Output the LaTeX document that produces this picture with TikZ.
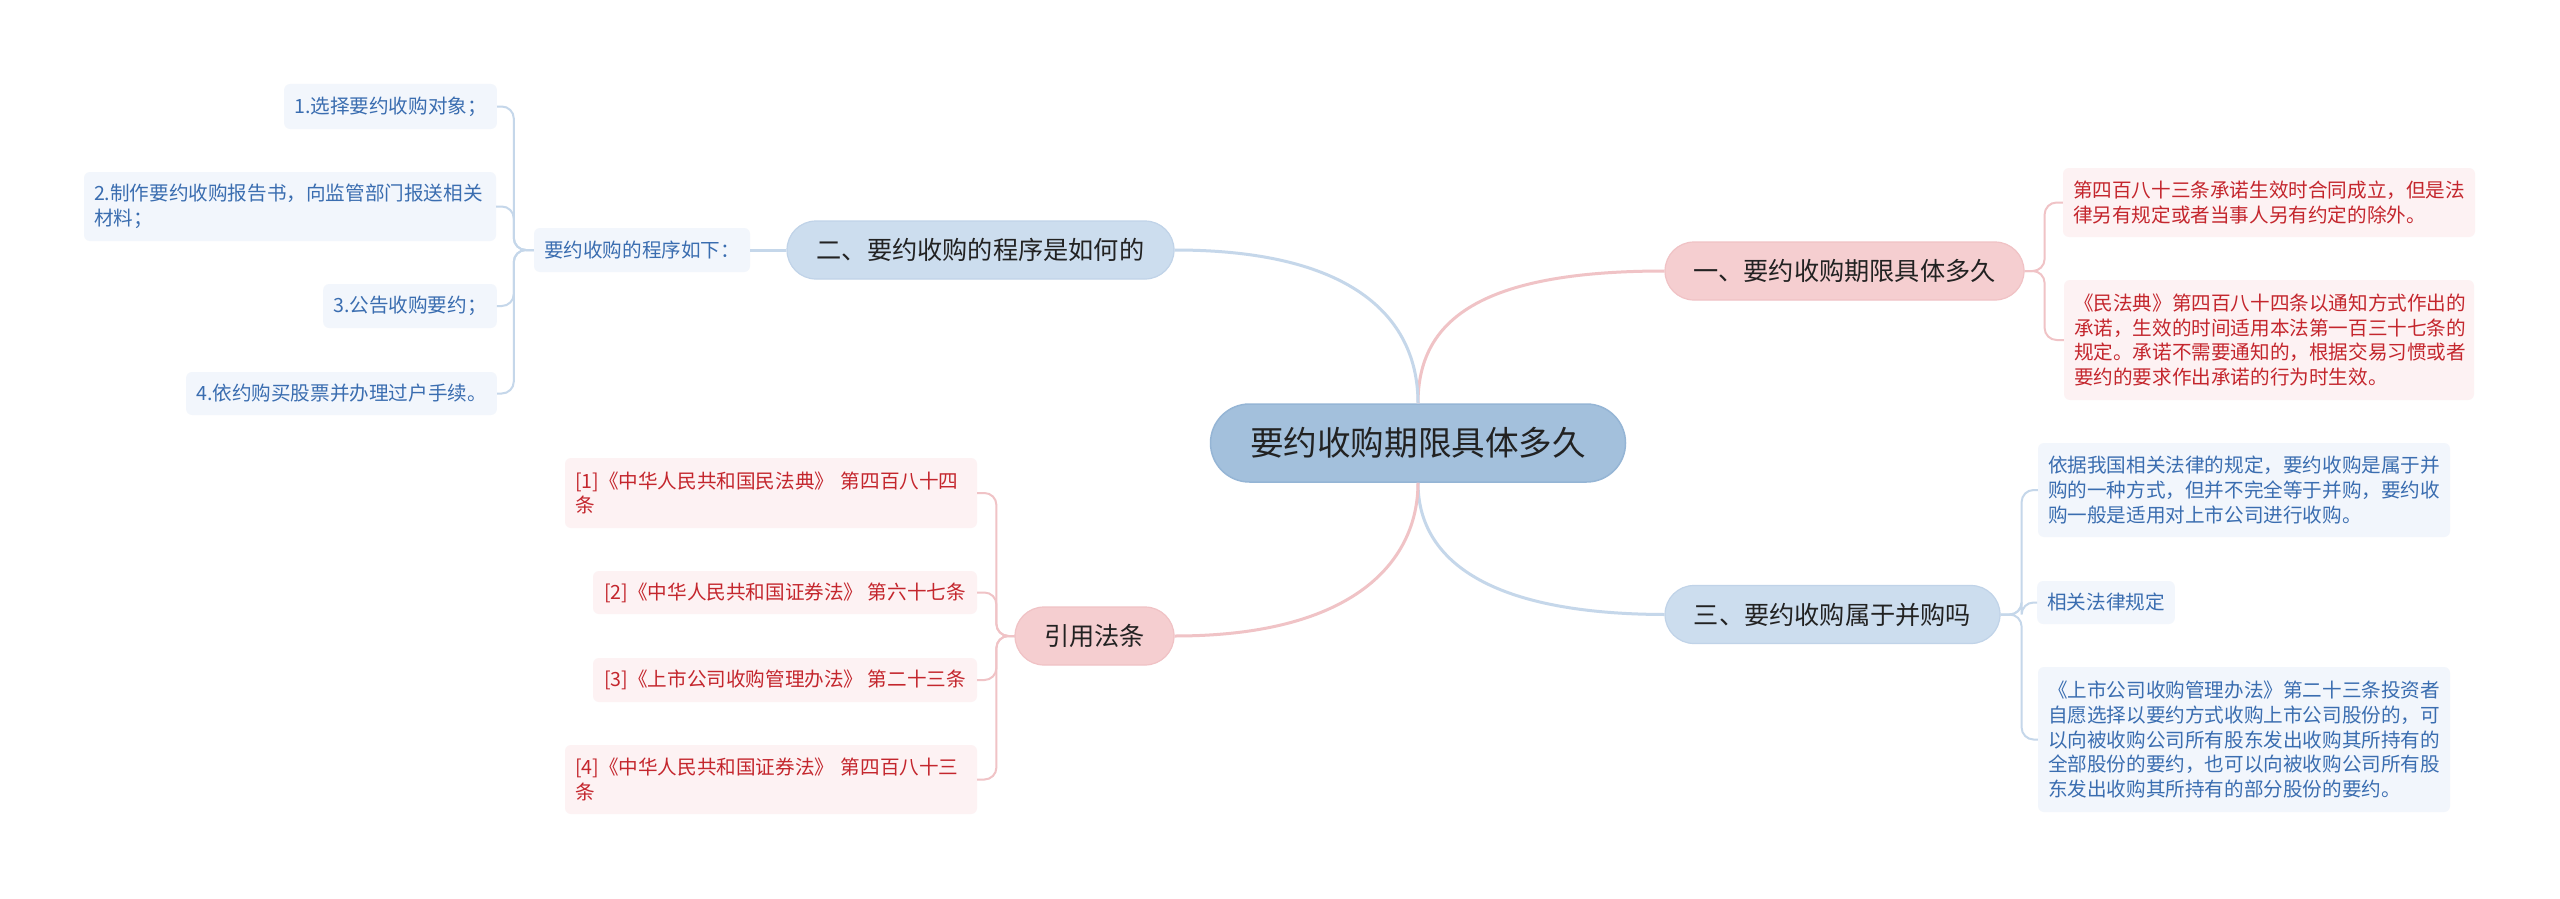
\documentclass[tikz,border=0pt]{standalone}
\usepackage{fontspec}
\setmainfont{Noto Sans CJK SC}
\definecolor{rootfill}{HTML}{A3C0DC}
\definecolor{rootdraw}{HTML}{95B5D5}
\definecolor{pinkfill}{HTML}{F5CED0}
\definecolor{pinkdraw}{HTML}{F0C2C5}
\definecolor{bluefill}{HTML}{CCDDEE}
\definecolor{bluedraw}{HTML}{C0D3E8}
\definecolor{pinkleaf}{HTML}{FDF2F3}
\definecolor{blueleaf}{HTML}{F2F6FC}
\definecolor{pinkline}{HTML}{F0C3C6}
\definecolor{blueline}{HTML}{C5D7EA}
\definecolor{redtext}{HTML}{C4262D}
\definecolor{bluetext}{HTML}{3A6DB0}
\definecolor{darktext}{HTML}{222222}
\begin{document}
\begin{tikzpicture}[x=1pt,y=-1pt,
 rootnode/.style={fill=rootfill, draw=rootdraw, line width=1.5pt, rounded corners=39pt, minimum width=415pt, minimum height=78pt, inner sep=0pt, text=darktext, font=\fontsize{33.6}{40}\selectfont},
 topic/.style={rounded corners=29pt, minimum height=58pt, inner sep=0pt, text=darktext, font=\fontsize{25.2}{30}\selectfont, line width=1.2pt},
 ptopic/.style={topic, fill=pinkfill, draw=pinkdraw},
 btopic/.style={topic, fill=bluefill, draw=bluedraw},
 leaf/.style={rounded corners=6pt, inner xsep=10pt, inner ysep=0pt, align=left, font=\fontsize{19.6}{24.7}\selectfont},
 pleaf/.style={leaf, fill=pinkleaf, text=redtext},
 bleaf/.style={leaf, fill=blueleaf, text=bluetext},
 mainp/.style={draw=pinkline, line width=3pt},
 mainb/.style={draw=blueline, line width=3pt},
 subp/.style={draw=pinkline, line width=2pt, rounded corners=12pt},
 subb/.style={draw=blueline, line width=2pt, rounded corners=12pt},
]
\fill[white] (0,0) rectangle (2560,899);
\useasboundingbox (0,0) rectangle (2560,899);

% root and topics
\node[rootnode] (root) at (1418,443) {要约收购期限具体多久};
\node[ptopic, minimum width=359pt] (t1) at (1844.5,271) {一、要约收购期限具体多久};
\node[btopic, minimum width=387pt] (t2) at (980.5,250) {二、要约收购的程序是如何的};
\node[btopic, minimum width=335pt] (t3) at (1832.5,614.5) {三、要约收购属于并购吗};
\node[ptopic, minimum width=159pt] (t4) at (1094.5,636) {引用法条};

% left blue branch
\node[bleaf, minimum width=214pt, minimum height=44pt] (p) at (642,250) {要约收购的程序如下：};
\node[bleaf, minimum width=211pt, minimum height=45pt] (l1) at (390.5,106.5) {1.选择要约收购对象；};
\node[bleaf, text width=392pt, minimum height=69pt] (l2) at (290,206.5) {2.制作要约收购报告书，向监管部门报送相关\\材料；};
\node[bleaf, minimum width=172pt, minimum height=44pt] (l3) at (410,306) {3.公告收购要约；};
\node[bleaf, minimum width=309pt, minimum height=43pt] (l4) at (341.5,393.5) {4.依约购买股票并办理过户手续。};

% left red branch
\node[pleaf, text width=392pt, minimum height=70pt] (r1) at (771,493) {[1]《中华人民共和国民法典》 第四百八十四\\条};
\node[pleaf, minimum width=384pt, minimum height=43pt] (r2) at (785,592.5) {[2]《中华人民共和国证券法》 第六十七条};
\node[pleaf, minimum width=384pt, minimum height=44pt] (r3) at (785,680) {[3]《上市公司收购管理办法》 第二十三条};
\node[pleaf, text width=392pt, minimum height=69pt] (r4) at (771,779.5) {[4]《中华人民共和国证券法》 第四百八十三\\条};

% right red branch
\node[pleaf, text width=392pt, minimum height=69pt] (a) at (2269,202.5) {第四百八十三条承诺生效时合同成立，但是法\\律另有规定或者当事人另有约定的除外。};
\node[pleaf, text width=390pt, minimum height=120pt] (b) at (2269,340) {《民法典》第四百八十四条以通知方式作出的\\承诺，生效的时间适用本法第一百三十七条的\\规定。承诺不需要通知的，根据交易习惯或者\\要约的要求作出承诺的行为时生效。};

% right blue branch
\node[bleaf, text width=392pt, minimum height=94pt] (c) at (2244,490) {依据我国相关法律的规定，要约收购是属于并\\购的一种方式，但并不完全等于并购，要约收\\购一般是适用对上市公司进行收购。};
\node[bleaf, minimum width=136pt, minimum height=43pt] (d) at (2106,602.5) {相关法律规定};
\node[bleaf, text width=392pt, minimum height=145pt] (e) at (2244,739.5) {《上市公司收购管理办法》第二十三条投资者\\自愿选择以要约方式收购上市公司股份的，可\\以向被收购公司所有股东发出收购其所持有的\\全部股份的要约，也可以向被收购公司所有股\\东发出收购其所持有的部分股份的要约。};

% main connectors
\draw[mainp] (root.north) .. controls (1418,320) and (1480,271) .. (t1.west);
\draw[mainb] (root.north) .. controls (1418,320) and (1356,250) .. (t2.east);
\draw[mainb] (root.south) .. controls (1418,555) and (1480,614) .. (t3.west);
\draw[mainp] (root.south) .. controls (1418,560) and (1356,636) .. (t4.east);
\draw[mainb] (t2.west) -- (p.east);

% sub connectors
\foreach \c in {l1,l2,l3,l4} \draw[subb] (p.west) -- ++(-20,0) |- (\c.east);
\foreach \c in {r1,r2,r3,r4} \draw[subp] (t4.west) -- ++(-18,0) |- (\c.east);
\foreach \c in {a,b} \draw[subp] (t1.east) -- ++(20,0) |- (\c.west);
\foreach \c in {c,d,e} \draw[subb] (t3.east) -- ++(21,0) |- (\c.west);
\end{tikzpicture}
\end{document}
